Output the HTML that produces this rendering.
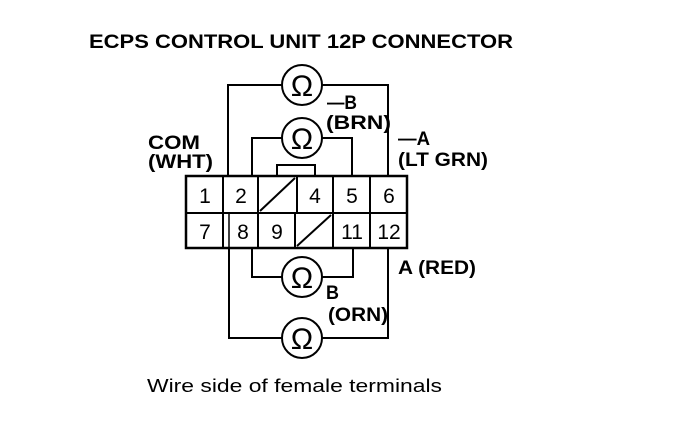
<!DOCTYPE html>
<html><head><style>body{margin:0;background:#fff}svg{display:block}</style></head>
<body>
<svg width="688" height="428" viewBox="0 0 688 428" xmlns="http://www.w3.org/2000/svg" font-family="Liberation Sans, Arial, sans-serif">
<g fill="#000">
<text x="89" y="48" font-size="19" font-weight="bold" textLength="424" lengthAdjust="spacingAndGlyphs">ECPS CONTROL UNIT 12P CONNECTOR</text>
<text x="147" y="392" font-size="18" textLength="295" lengthAdjust="spacingAndGlyphs">Wire side of female terminals</text>
<g font-size="19" font-weight="bold">
<text x="148" y="149" textLength="52" lengthAdjust="spacingAndGlyphs">COM</text>
<text x="148" y="168" textLength="65" lengthAdjust="spacingAndGlyphs">(WHT)</text>
<text x="327" y="109" textLength="30" lengthAdjust="spacingAndGlyphs">—B</text>
<text x="326" y="129" textLength="65" lengthAdjust="spacingAndGlyphs">(BRN)</text>
<text x="398" y="145" textLength="32" lengthAdjust="spacingAndGlyphs">—A</text>
<text x="398" y="166" textLength="90" lengthAdjust="spacingAndGlyphs">(LT GRN)</text>
<text x="398" y="274" textLength="78" lengthAdjust="spacingAndGlyphs">A (RED)</text>
<text x="326" y="299" textLength="13" lengthAdjust="spacingAndGlyphs">B</text>
<text x="328" y="321" textLength="60" lengthAdjust="spacingAndGlyphs">(ORN)</text>
</g>
</g>
<g stroke="#000" fill="none" stroke-width="2">
<polyline points="282,85 228,85 228,176"/>
<polyline points="322,85 388,85 388,176"/>
<polyline points="282,138 252,138 252,176"/>
<polyline points="322,138 352,138 352,176"/>
<polyline points="252,248 252,277 282,277"/>
<polyline points="322,277 353,277 353,248"/>
<polyline points="229,248 229,338 282,338"/>
<polyline points="322,338 388,338 388,248"/>
<rect x="186" y="176" width="221" height="72" stroke-width="2.5"/>
<polyline points="277,176 277,165 315,165 315,176"/>
<line x1="186" y1="213" x2="407" y2="213"/>
<line x1="223" y1="176" x2="223" y2="248"/>
<line x1="258" y1="176" x2="258" y2="248"/>
<line x1="297" y1="176" x2="297" y2="213"/>
<line x1="295" y1="213" x2="295" y2="248"/>
<line x1="333" y1="176" x2="333" y2="248"/>
<line x1="370" y1="176" x2="370" y2="248"/>
<line x1="229" y1="213" x2="229" y2="248" stroke-width="1.5"/>
<line x1="260" y1="211" x2="295" y2="178"/>
<line x1="297" y1="246" x2="331" y2="215"/>
<circle cx="302" cy="85" r="20"/>
<circle cx="302" cy="138" r="20"/>
<circle cx="302" cy="277" r="20"/>
<circle cx="302" cy="338" r="20"/>
</g>
<g font-size="30" text-anchor="middle" fill="#000">
<text x="302" y="96">Ω</text>
<text x="302" y="149">Ω</text>
<text x="302" y="288">Ω</text>
<text x="302" y="349">Ω</text>
</g>
<g font-size="21" text-anchor="middle" fill="#000">
<text x="205" y="203">1</text>
<text x="241" y="203">2</text>
<text x="315" y="203">4</text>
<text x="352" y="203">5</text>
<text x="389" y="203">6</text>
<text x="205" y="239">7</text>
<text x="243" y="239">8</text>
<text x="277" y="239">9</text>
<text x="352" y="239">11</text>
<text x="389" y="239">12</text>
</g>
</svg>
</body></html>
